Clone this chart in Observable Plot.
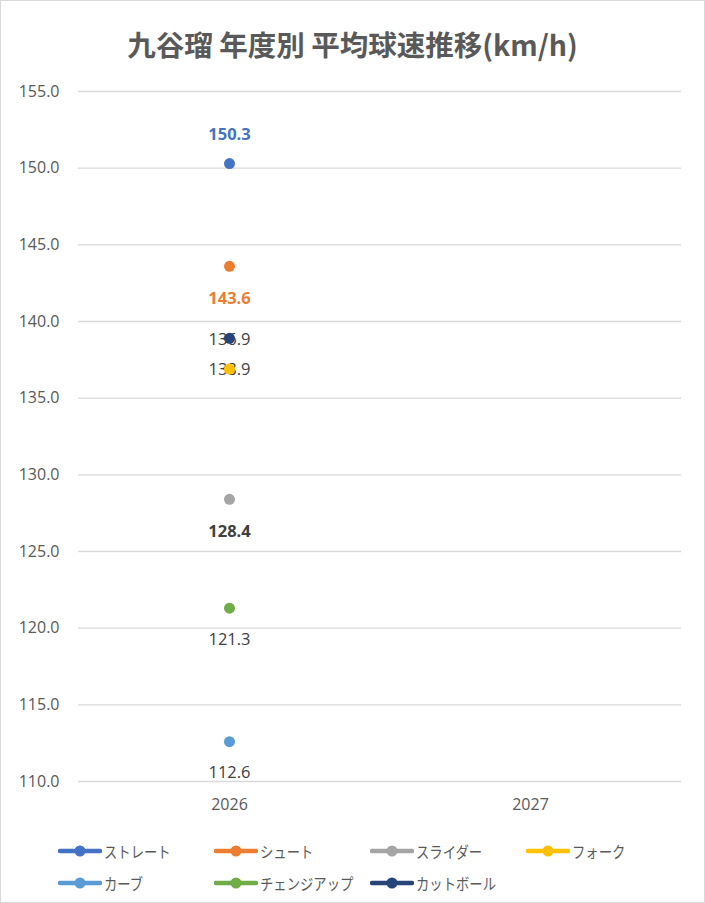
<!DOCTYPE html>
<html>
<head>
<meta charset="utf-8">
<script src="https://cdn.jsdelivr.net/npm/d3@7"></script>
<script src="https://cdn.jsdelivr.net/npm/@observablehq/plot@0.6"></script>
<style>
  html, body { margin: 0; padding: 0; background: #fff; }
  #chart { position: relative; width: 703px; height: 901px; border: 1px solid #d9d9d9; background: #fff; overflow: hidden;
           font-family: "Noto Sans CJK JP", "Noto Sans", sans-serif; }
  #title { height: 69px; text-align: center; font-size: 28.5px; font-weight: bold; color: #595959; line-height: 86px; }
  #legend { position: absolute; left: 0; top: 834px; width: 703px; }
  .row { position: relative; height: 32px; }
  .item { position: absolute; top: 0; display: flex; align-items: center; height: 32px; font-size: 15.5px; color: #595959; }
  .item svg { margin-right: 2px; }
  .item span { display: inline-block; transform: scaleX(0.86); transform-origin: left center; }
  #plot g[aria-label$="tick label"] text { font-size: 16px !important; font-family: "Open Sans", sans-serif !important; }
</style>
</head>
<body>
<div id="chart">
  <div id="title">九谷瑠 年度別 平均球速推移(km/h)</div>
  <div id="plot"></div>
  <div id="legend"></div>
</div>
<script>
const pitches = ["ストレート", "シュート", "スライダー", "フォーク", "カーブ", "チェンジアップ", "カットボール"];
const colors = ["#4472C4", "#ED7D31", "#A5A5A5", "#FFC000", "#5B9BD5", "#70AD47", "#264478"];
const years = ["2026", "2027"];
const speeds2026 = [150.3, 143.6, 128.4, 136.9, 112.6, 121.3, 138.9];
const yTicks = [110, 115, 120, 125, 130, 135, 140, 145, 150, 155];

const data = pitches.map((p, i) => ({ pitch: p, year: years[0], speed: speeds2026[i] }));

const colorScale = { domain: pitches, range: colors };
const labelFont = { fontSize: 16.5, fontFamily: "'Open Sans', sans-serif" };
const lbl = d => d.speed.toFixed(1);

const chart = Plot.plot({
  width: 703,
  height: 757,
  marginTop: 21,
  marginBottom: 46,
  marginLeft: 77,
  marginRight: 23,
  style: { fontFamily: "'Open Sans', sans-serif", fontSize: "16px", background: "#fff", overflow: "visible" },
  x: { type: "point", domain: years, padding: 0.5, label: null, tickSize: 0, tickPadding: 17 },
  y: { domain: [110, 155], ticks: yTicks, tickFormat: d3.format(".1f"), label: null, tickSize: 0, tickPadding: 20 },
  color: colorScale,
  marks: [
    Plot.ruleY(yTicks, { stroke: "#d9d9d9", strokeWidth: 1.3 }),
    Plot.axisY({ ticks: yTicks, tickFormat: d3.format(".1f"), tickSize: 0, tickPadding: 19, fill: "#595959", label: null }),
    Plot.axisX({ tickSize: 0, tickPadding: 17, fill: "#595959", label: null }),
    // labels above the point
    Plot.text(data.filter(d => d.pitch === "ストレート"), { x: "year", y: "speed", text: lbl, dy: -29, fill: colors[0], fontWeight: "bold", ...labelFont }),
    Plot.text(data.filter(d => d.pitch === "フォーク"), { x: "year", y: "speed", text: lbl, dy: -29, fill: "#404040", ...labelFont }),
    // labels below the point
    Plot.text(data.filter(d => d.pitch === "シュート"), { x: "year", y: "speed", text: lbl, dy: 32, fill: colors[1], fontWeight: "bold", ...labelFont }),
    Plot.text(data.filter(d => d.pitch === "スライダー"), { x: "year", y: "speed", text: lbl, dy: 32, fill: "#404040", fontWeight: "bold", ...labelFont }),
    Plot.text(data.filter(d => ["カーブ", "チェンジアップ", "カットボール"].includes(d.pitch)), { x: "year", y: "speed", text: lbl, dy: 31, fill: "#404040", ...labelFont }),
    Plot.dot(data, { x: "year", y: "speed", fill: "pitch", r: 5.5 })
  ]
});
document.getElementById("plot").appendChild(chart);

// legend
const legend = document.getElementById("legend");
const rows = [pitches.slice(0, 4), pitches.slice(4)];
rows.forEach(r => {
  const row = document.createElement("div");
  row.className = "row";
  r.forEach((p, j) => {
    const i = pitches.indexOf(p);
    const item = document.createElement("div");
    item.className = "item";
    item.style.left = (57 + j * 156) + "px";
    item.innerHTML = `<svg width="44" height="14"><line x1="2" x2="42" y1="7" y2="7" stroke="${colors[i]}" stroke-width="4.5" stroke-linecap="round"/><circle cx="22" cy="7" r="5.5" fill="${colors[i]}"/></svg><span>${p}</span>`;
    row.appendChild(item);
  });
  legend.appendChild(row);
});
</script>
</body>
</html>
